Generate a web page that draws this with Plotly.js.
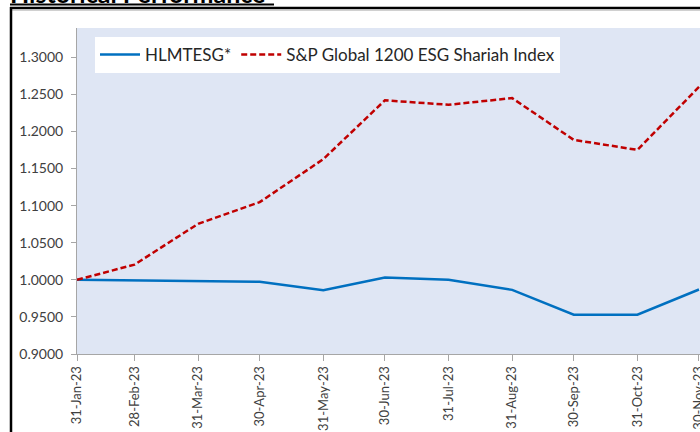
<!DOCTYPE html>
<html>
<head>
<meta charset="utf-8">
<script src="https://cdn.plot.ly/plotly-3.0.1.min.js"></script>
<style>
  html, body { margin: 0; padding: 0; background: #ffffff; }
  #chart { width: 700px; height: 432px; }
</style>
</head>
<body>
<div id="chart"></div>
<script>
// ---- Data ----
const dates = ["2023-01-31", "2023-02-28", "2023-03-31", "2023-04-30", "2023-05-31", "2023-06-30",
               "2023-07-31", "2023-08-31", "2023-09-30", "2023-10-31", "2023-11-30"];
const hlmtesg = [1.0000, 0.9990, 0.9983, 0.9973, 0.9860, 1.0030, 1.0000, 0.9865, 0.9530, 0.9530, 0.9870];
const spShariah = [1.0000, 1.0205, 1.0755, 1.1047, 1.1627, 1.2420, 1.2360, 1.2450, 1.1887, 1.1752, 1.2600];
const tickLabels = ["31-Jan-23", "28-Feb-23", "31-Mar-23", "30-Apr-23", "31-May-23", "30-Jun-23",
                    "31-Jul-23", "31-Aug-23", "30-Sep-23", "31-Oct-23", "30-Nov-23"];
const yTicks = [0.90, 0.95, 1.00, 1.05, 1.10, 1.15, 1.20, 1.25, 1.30];
const seriesNames = ["HLMTESG*", "S&P Global 1200 ESG Shariah Index"];
const chartTitle = "Historical Performance";

// ---- Geometry helpers (pixel -> paper) ----
const L = 77, T = 28, W = 700, H = 432, R = 0, B = 78;
const pw = W - L - R, ph = H - T - B;
const px = x => (x - L) / pw;
const py = y => (H - B - y) / ph;

const font = "Lato, 'Open Sans', 'Liberation Sans', sans-serif";

const traces = [
  {
    x: dates, y: hlmtesg, name: seriesNames[0], type: "scatter", mode: "lines",
    line: { color: "#0070C0", width: 2.5 }
  },
  {
    x: dates, y: spShariah, name: seriesNames[1], type: "scatter", mode: "lines",
    line: { color: "#C00000", width: 2.5, dash: "6px,3px" }
  }
];

const layout = {
  width: W, height: H,
  margin: { l: L, r: R, t: T, b: B, pad: 0 },
  paper_bgcolor: "#ffffff",
  plot_bgcolor: "#DFE6F4",
  font: { family: font, size: 14, color: "#404040" },
  showlegend: true,
  legend: {
    orientation: "h",
    x: px(95), y: py(37), xanchor: "left", yanchor: "top",
    bgcolor: "#ffffff", borderwidth: 0,
    font: { family: font, size: 17, color: "#262626" },
    itemwidth: 40, tracegroupgap: 0
  },
  xaxis: {
    type: "date",
    range: ["2023-01-31", "2023-11-30 12:00"],
    tickvals: dates, ticktext: tickLabels,
    tickangle: -90,
    ticklabeloverflow: "allow",
    showgrid: false, zeroline: false,
    showline: true, linecolor: "#A6A6A6", linewidth: 1,
    ticks: "outside", ticklen: 6, tickcolor: "#A6A6A6",
    tickfont: { family: font, size: 13, color: "#404040" }
  },
  yaxis: {
    range: [0.9, 1.3395],
    tickvals: yTicks, tickformat: ".4f",
    showgrid: false, zeroline: false,
    showline: true, linecolor: "#A6A6A6", linewidth: 1,
    ticks: "outside", ticklen: 5, tickcolor: "#A6A6A6",
    ticklabelstandoff: 5,
    tickfont: { family: font, size: 14, color: "#404040" }
  },
  annotations: [
    {
      text: "<b>" + chartTitle + "</b>",
      xref: "paper", yref: "paper",
      x: px(8), y: py(10), xanchor: "left", yanchor: "bottom",
      showarrow: false,
      font: { family: font, size: 25, color: "#000000" }
    }
  ],
  shapes: [
    // title underline
    { type: "line", xref: "paper", yref: "paper", x0: px(10), x1: px(274), y0: py(4.5), y1: py(4.5),
      line: { color: "#000000", width: 2 } },
    // outer frame top
    { type: "line", xref: "paper", yref: "paper", x0: px(10), x1: px(710), y0: py(8), y1: py(8),
      line: { color: "#000000", width: 2.5 } },
    // light chart-area border
    { type: "line", xref: "paper", yref: "paper", x0: px(12), x1: px(710), y0: py(10.5), y1: py(10.5),
      line: { color: "#D0D0D0", width: 1 } },
    // outer frame left
    { type: "line", xref: "paper", yref: "paper", x0: px(11), x1: px(11), y0: py(7), y1: py(445),
      line: { color: "#000000", width: 2.5 } }
  ]
};

Plotly.newPlot("chart", traces, layout, { displayModeBar: false, staticPlot: true });
</script>
</body>
</html>
